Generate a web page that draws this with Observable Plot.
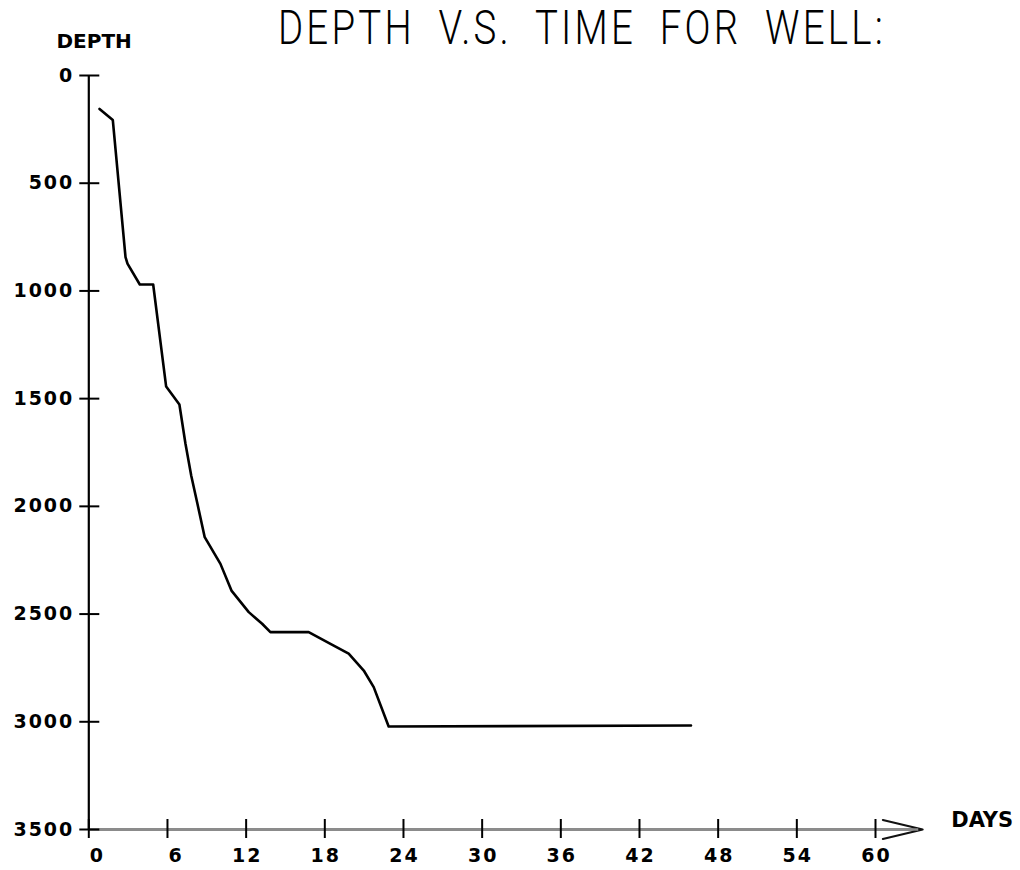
<!DOCTYPE html>
<html>
<head>
<meta charset="utf-8">
<script src="https://cdn.jsdelivr.net/npm/d3@7"></script>
<script src="https://cdn.jsdelivr.net/npm/@observablehq/plot@0.6"></script>
<style>
  body { margin: 0; background: #fff; }
  #wrap { position: relative; width: 1020px; height: 870px; }
  #title {
    position: absolute; left: 278px; top: 3.6px; margin: 0;
    font-family: Roboto, sans-serif; font-weight: 300; font-size: 48px; line-height: 48px;
    letter-spacing: 4px; word-spacing: 14px; white-space: nowrap; color: #000;
    transform: scaleX(0.8); transform-origin: left top;
  }
  g[aria-label="y-axis tick label"] text,
  g[aria-label="x-axis tick label"] text { letter-spacing: 2px; }
  g[aria-label="axis-name"] text { letter-spacing: 1px; }
</style>
</head>
<body>
<div id="wrap"><div id="title"></div><div id="chart"></div></div>
<script>
// ---- data ----
const days   = [0.82, 1.83, 2.80, 2.95, 3.89, 4.91, 5.90, 6.91, 7.37, 7.81, 8.26, 8.84, 10.04, 10.88, 12.20, 13.22, 13.85, 16.77, 18.68, 19.82, 20.97, 21.73, 22.87, 45.93];
const depths = [155, 206, 843, 873, 970, 970, 1444, 1527, 1708, 1857, 1981, 2143, 2267, 2391, 2491, 2545, 2584, 2584, 2646, 2684, 2762, 2839, 3022, 3017];
const xTicks = [0, 6, 12, 18, 24, 30, 36, 42, 48, 54, 60];
const yTicks = [0, 500, 1000, 1500, 2000, 2500, 3000, 3500];
const xDomain = [0, 60];
const yDomain = [0, 3500];
const arrowEnd = 63.6;   // x-axis arrow tip, in days
const titleText = "DEPTH V.S. TIME FOR WELL:";
const yName = "DEPTH";
const xName = "DAYS";

document.getElementById("title").textContent = titleText;

const data = days.map((d, i) => ({day: d, depth: depths[i]}));
const tickFont = "DejaVu Sans, sans-serif";

const chart = Plot.plot({
  width: 1020,
  height: 870,
  marginLeft: 88.3,
  marginRight: 145,
  marginTop: 75,
  marginBottom: 41,
  style: {background: "#fff", color: "#000"},
  x: {domain: xDomain, label: null},
  y: {domain: yDomain, reverse: true, label: null},
  marks: [
    // x axis arrow (head) and its gray shaft
    Plot.arrow([0], {x1: xDomain[0], y1: yDomain[1], x2: arrowEnd, y2: yDomain[1],
      stroke: "#111", strokeWidth: 2, headLength: 30.75, headAngle: 27}),
    Plot.ruleY([yDomain[1]], {x1: xDomain[0], x2: arrowEnd - 0.3, stroke: "#8c8c8c", strokeWidth: 2.4}),
    // y axis line
    Plot.ruleX([xDomain[0]], {stroke: "#000", strokeWidth: 2.2}),
    // crossing ticks
    Plot.ruleY(yTicks, {y: d => d, x1: xDomain[0], x2: xDomain[0], insetLeft: -9, insetRight: -11, stroke: "#000", strokeWidth: 2}),
    Plot.ruleX(xTicks, {x: d => d, y1: yDomain[1], y2: yDomain[1], insetTop: -10, insetBottom: -9, stroke: "#000", strokeWidth: 2}),
    // tick labels
    Plot.axisY(yTicks, {tickSize: 0, tickPadding: 14.5, tickFormat: d => `${d}`,
      fontSize: 19, fontWeight: "bold", fontFamily: tickFont, fill: "#000"}),
    Plot.axisX(xTicks, {tickSize: 0, tickPadding: 19, dx: 1, tickFormat: d => `${d}`.padStart(2, "\u2007"),
      fontSize: 19, fontWeight: "bold", fontFamily: tickFont, fill: "#000"}),
    // data line
    Plot.line(data, {x: "day", y: "depth", stroke: "#000", strokeWidth: 2.6, curve: "linear"}),
    // axis names
    Plot.text([yName], {text: d => d, frameAnchor: "top-left", textAnchor: "start", dx: -32.3, dy: -27.3, lineAnchor: "bottom",
      fontSize: 20, fontWeight: "bold", fontFamily: tickFont, fill: "#000", ariaLabel: "axis-name"}),
    Plot.text([xName], {text: d => d, frameAnchor: "bottom-right", textAnchor: "start", dx: 75.7, dy: -2.3, lineAnchor: "bottom",
      fontSize: 21, fontWeight: "bold", fontFamily: tickFont, fill: "#000", ariaLabel: "axis-name"})
  ]
});
document.getElementById("chart").append(chart);
</script>
</body>
</html>
